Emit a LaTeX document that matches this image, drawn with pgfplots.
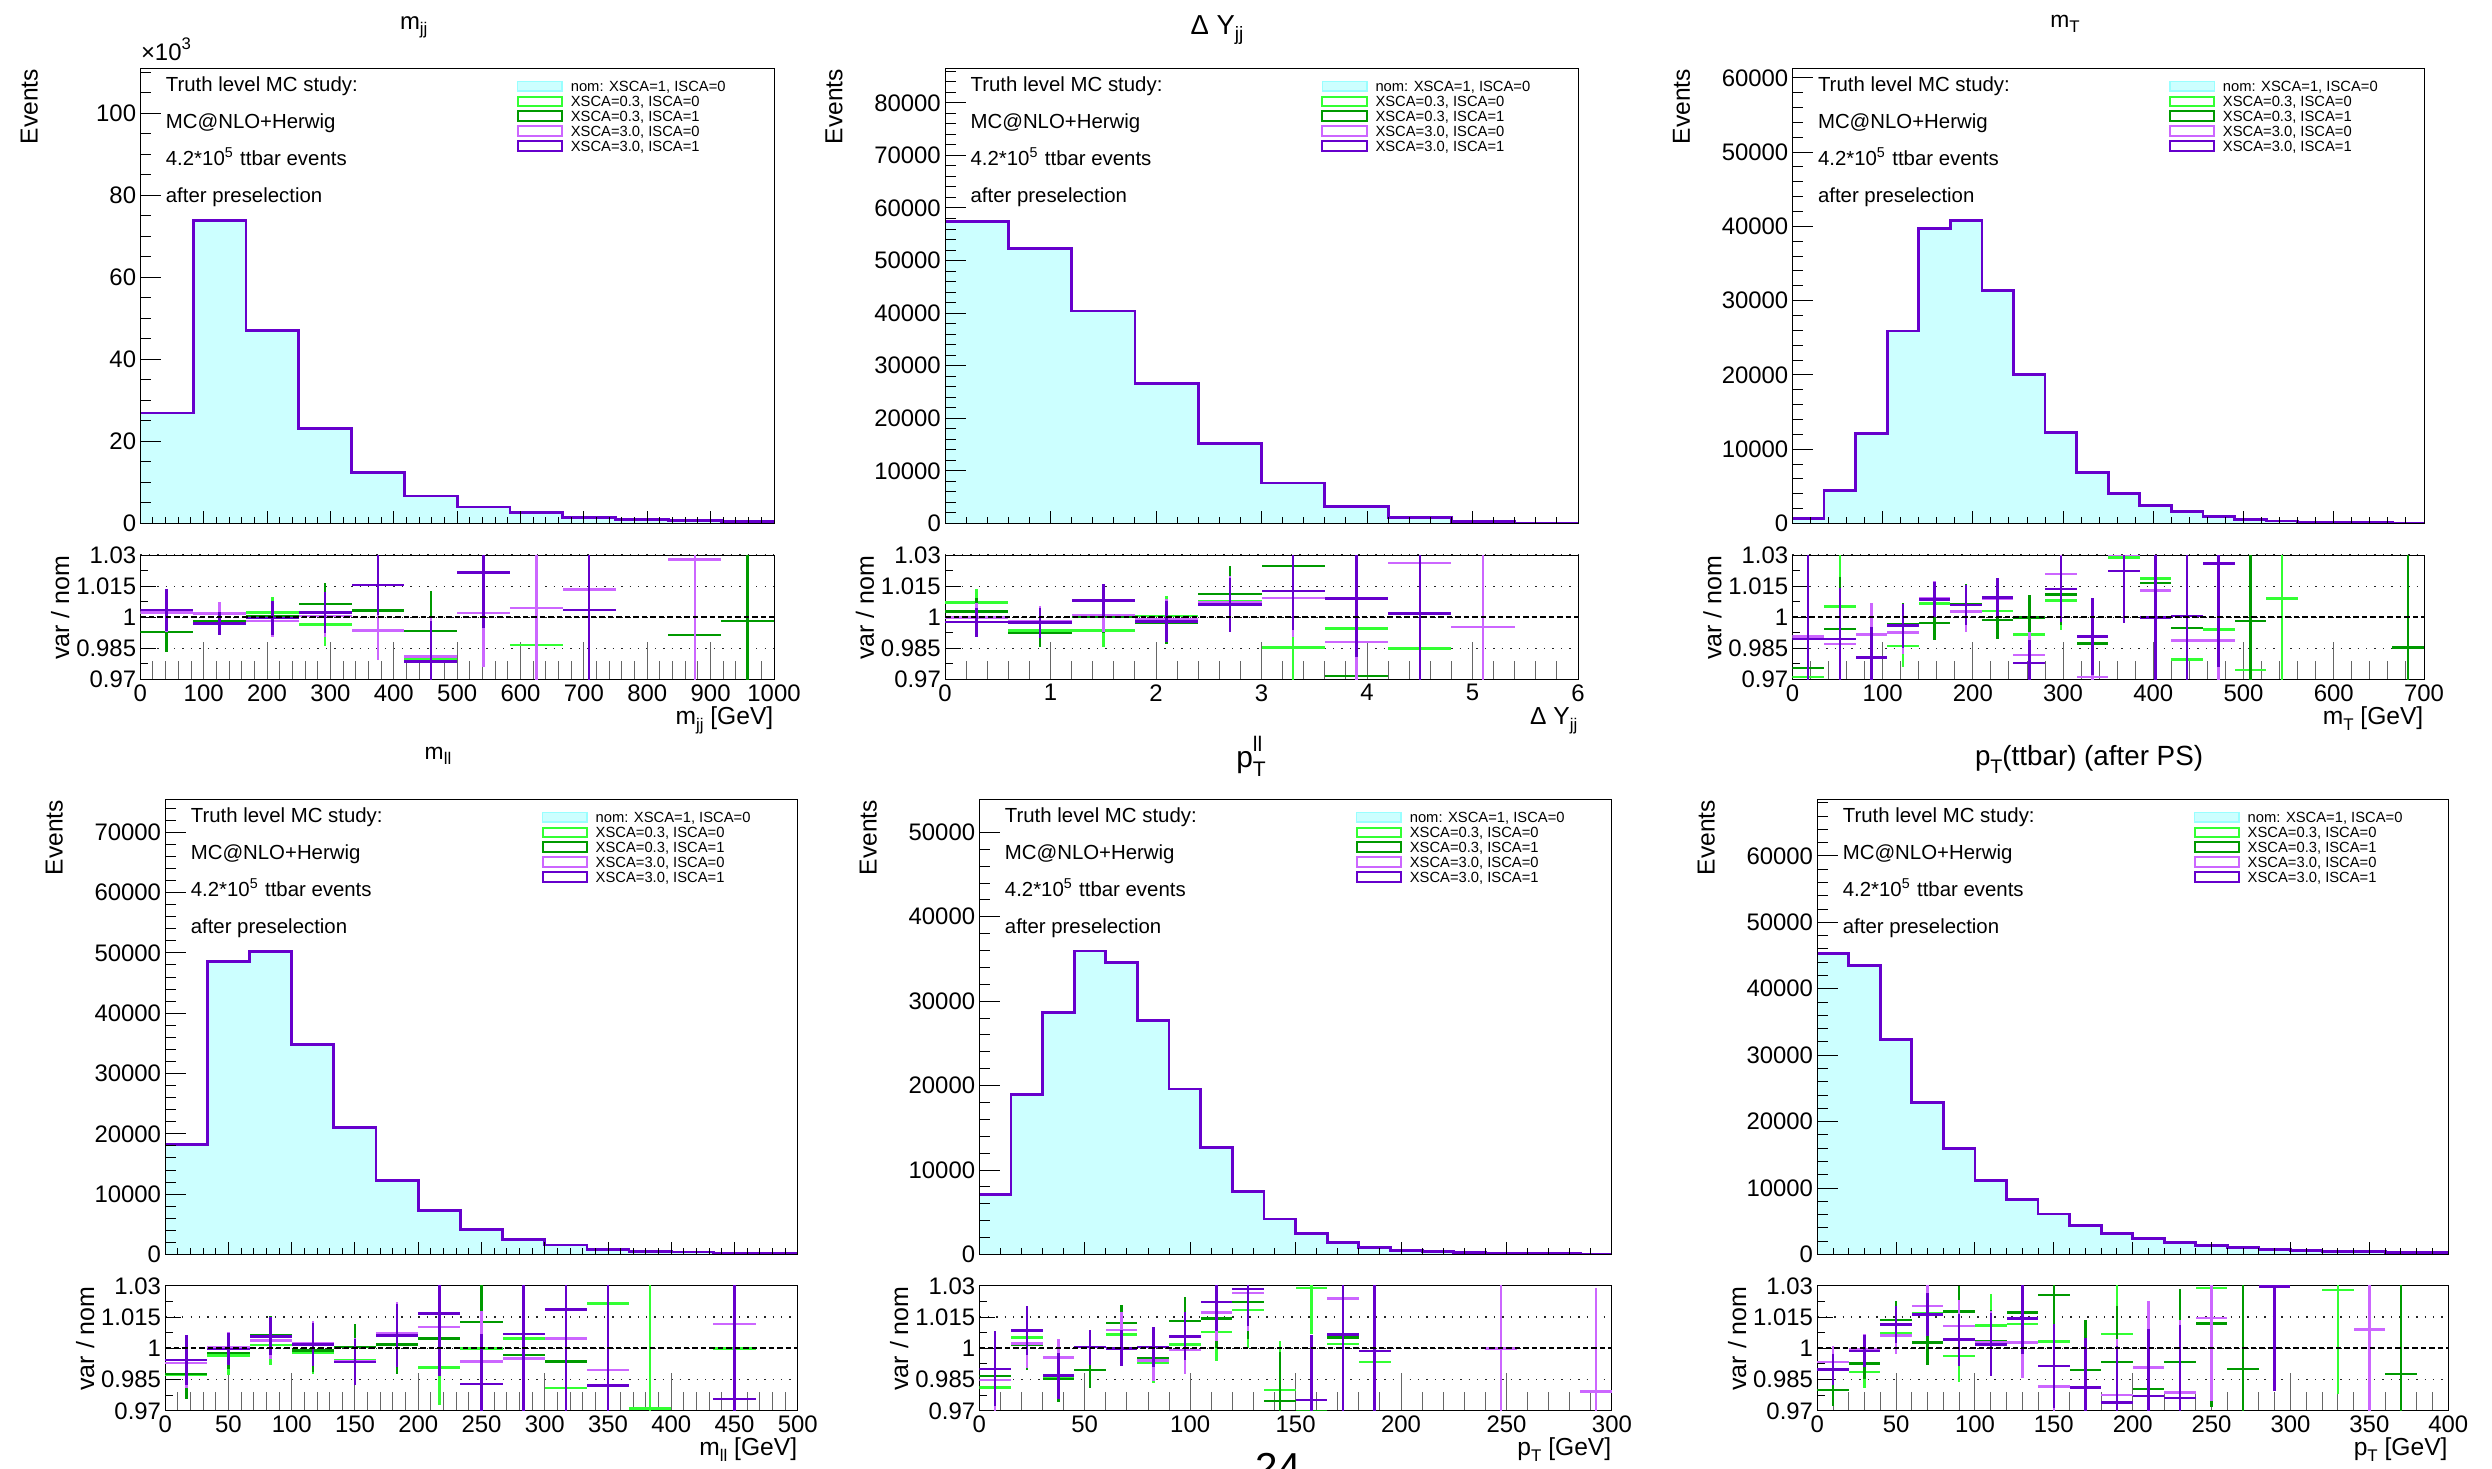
\documentclass[border=0pt]{standalone}
\usepackage{fontspec}
\setmainfont{Liberation Sans}
\usepackage{pgfplots}
\usepackage{pgfplotstable}
\pgfplotsset{compat=1.18}

\definecolor{nomfill}{HTML}{CCFFFF}
\definecolor{nomline}{HTML}{99FFFF}
\definecolor{lgreen}{HTML}{33FF33}
\definecolor{dgreen}{HTML}{009900}
\definecolor{lpurple}{HTML}{CC66FF}
\definecolor{dpurple}{HTML}{6600CC}

\newcommand\fs[1]{\fontsize{#1}{#1}\selectfont}

% columns: lo = bin low edge, x = bin centre, n = nominal,
% a/b/c/d = var/nom for the four variations, ae..de = their errors
\pgfplotstableread{
lo x n a ae b be c ce d de
0 41.667 26.9 1.002 0.0095 0.9929 0.0097 1.0023 0.0095 1.0034 0.010
83.333 125 73.9 0.998 0.0055 0.9982 0.0055 1.0018 0.0057 0.9969 0.0056
166.667 208.333 47.1 1.0024 0.0072 1.0005 0.0072 0.9982 0.0075 0.9997 0.0083
250 291.667 23.2 0.9965 0.0105 1.0063 0.010 1.0006 0.010 1.0023 0.010
333.333 375 12.4 1.0035 0.0145 1.0032 0.0145 0.9937 0.0145 1.0156 0.0145
416.667 458.333 6.67 0.980 0.019 0.9934 0.0194 0.9811 0.019 0.9787 0.0195
500 541.667 4.0 nan nan nan nan 1.0021 0.026 1.0215 0.0265
583.333 625 2.6 0.9866 0.02 nan nan 1.0045 0.038 nan nan
666.667 708.333 1.5 nan nan nan nan 1.0134 0.03 1.0035 0.045
750 791.667 1.0 nan nan nan nan nan nan nan nan
833.333 875 0.7 nan nan 0.9915 0.03 1.0279 0.06 nan nan
916.667 958.333 0.45 nan nan 0.9982 0.05 nan nan nan nan
1000 nan 0.45 nan nan nan nan nan nan nan nan
}\tA

\pgfplotstableread{
lo x n a ae b be c ce d de
0 0.3 57500 1.0071 0.0063 1.0029 0.0066 1.0 0.0068 0.9977 0.007
0.6 0.9 52300 0.9937 0.0068 0.9924 0.0068 0.9982 0.007 0.9974 0.0073
1.2 1.5 40400 0.9937 0.008 1.0002 0.008 1.001 0.008 1.0081 0.008
1.8 2.1 26600 1.0006 0.0098 0.9973 0.01 0.9989 0.01 0.998 0.01
2.4 2.7 15200 1.0077 0.013 1.0113 0.0134 1.007 0.013 1.0061 0.013
3.0 3.3 7700 0.9855 0.02 1.0248 0.02 1.0094 0.019 1.0127 0.0187
3.6 3.9 3200 0.9947 0.028 0.9716 0.03 0.9882 0.028 1.009 0.028
4.2 4.5 1100 0.985 0.045 nan nan 1.0261 0.045 1.0019 0.045
4.8 5.1 300 nan nan nan nan 0.9952 0.06 nan nan
5.4 5.7 100 nan nan nan nan nan nan nan nan
6 nan 100 nan nan nan nan nan nan nan nan
}\tB

\pgfplotstableread{
lo x n a ae b be c ce d de
0 17.5 630 0.9711 0.04 0.9756 0.04 0.9908 0.04 0.9895 0.045
35 52.5 4400 1.0052 0.03 0.9944 0.025 0.9871 0.024 0.9895 0.0244
70 87.5 12100 0.9915 0.015 0.992 0.015 0.9918 0.015 0.9806 0.0147
105 122.5 25900 0.9861 0.0103 0.9966 0.0105 0.9926 0.0105 0.996 0.0106
140 157.5 39700 1.0066 0.0085 0.9973 0.0084 1.009 0.0086 1.0085 0.0086
175 192.5 40800 1.003 0.0097 1.0063 0.0097 1.0027 0.0097 1.0058 0.0097
210 227.5 31400 1.003 0.009 0.9987 0.009 1.009 0.0093 1.0095 0.0093
245 262.5 20000 0.9916 0.011 0.9998 0.011 0.9819 0.011 0.9779 0.011
280 297.5 12200 1.0082 0.0145 1.011 0.0145 1.0208 0.016 1.0137 0.016
315 332.5 6900 nan nan 0.9874 0.019 0.9711 0.019 0.9908 0.0187
350 367.5 4060 1.0289 0.025 1.0223 0.025 1.03 0.025 1.0223 0.025
385 402.5 2400 1.0187 0.03 1.0166 0.03 1.0129 0.03 1.0 0.045
420 437.5 1600 0.9797 0.04 0.9948 0.04 0.9887 0.04 1.0006 0.045
455 472.5 900 0.9942 0.04 nan nan 0.9889 0.04 1.0258 0.05
490 507.5 500 0.9745 0.04 0.9982 0.05 nan nan nan nan
525 542.5 320 1.009 0.05 nan nan nan nan nan nan
560 577.5 200 nan nan nan nan nan nan nan nan
595 612.5 130 nan nan nan nan nan nan nan nan
630 647.5 80 nan nan nan nan nan nan nan nan
665 682.5 50 nan nan 0.9855 0.06 nan nan nan nan
700 nan 50 nan nan nan nan nan nan nan nan
}\tC

\pgfplotstableread{
lo x n a ae b be c ce d de
0 16.667 18200 0.9875 0.012 0.9877 0.012 0.9929 0.012 0.9944 0.0122
33.333 50 48600 0.9966 0.0093 0.9977 0.0075 1.0003 0.0075 0.9997 0.0075
66.667 83.333 50300 1.0015 0.0093 1.0063 0.0093 1.0037 0.009 1.0058 0.0092
100 116.667 34800 0.998 0.0105 0.999 0.0105 1.0024 0.0105 1.0018 0.0105
133.333 150 21000 0.9942 0.011 1.0006 0.011 0.994 0.011 0.9934 0.011
166.667 183.333 12300 1.002 0.014 1.0018 0.014 1.0074 0.015 1.0061 0.015
200 216.667 7260 0.9908 0.018 1.0048 0.018 1.0102 0.018 1.0168 0.03
233.333 250 4140 1.0 0.025 1.0126 0.025 0.9937 0.024 0.9829 0.024
266.667 283.333 2500 1.0047 0.03 0.9968 0.03 0.9952 0.03 1.0068 0.05
300 316.667 1560 0.981 0.035 0.9937 0.035 1.0047 0.035 1.0187 0.05
333.333 350 860 1.0216 0.04 nan nan 0.9895 0.04 0.9821 0.05
366.667 383.333 550 0.9711 0.06 nan nan nan nan nan nan
400 416.667 390 nan nan nan nan nan nan nan nan
433.333 450 230 1.0 0.05 nan nan 1.0118 0.05 0.9758 0.06
466.667 483.333 160 nan nan nan nan nan nan nan nan
500 nan 160 nan nan nan nan nan nan nan nan
}\tD

\pgfplotstableread{
lo x n a ae b be c ce d de
0 7.5 7080 0.9811 0.018 0.9868 0.018 0.9848 0.018 0.9902 0.018
15 22.5 18950 1.0052 0.012 1.0015 0.012 1.0024 0.012 1.0085 0.0118
30 37.5 28700 0.9855 0.01 0.9852 0.011 0.9956 0.009 0.9869 0.011
45 52.5 35950 0.9895 0.0085 0.9897 0.0085 1.0006 0.0084 1.0006 0.0084
60 67.5 34560 1.0066 0.0087 1.0121 0.0087 1.0089 0.0087 1.0 0.0087
75 82.5 27700 0.9929 0.0097 0.9952 0.0097 0.9942 0.0097 1.0006 0.0097
90 97.5 19600 1.0018 0.0116 1.0131 0.0116 0.9992 0.0116 1.0058 0.0116
105 112.5 12700 1.0079 0.014 1.0144 0.014 1.0173 0.014 1.0223 0.014
120 127.5 7500 1.0184 0.018 1.0223 0.018 1.0265 0.018 1.0286 0.018
135 142.5 4200 0.98 0.0234 0.9748 0.0234 nan nan nan nan
150 157.5 2450 1.0289 0.022 0.97 0.03 nan nan 0.9752 0.031
165 172.5 1400 1.0021 0.03 1.0053 0.03 1.024 0.03 1.0066 0.05
180 187.5 840 0.9934 0.03 nan nan nan nan 0.9987 0.05
195 202.5 500 nan nan nan nan nan nan nan nan
210 217.5 330 nan nan nan nan nan nan nan nan
225 232.5 220 nan nan nan nan nan nan nan nan
240 247.5 170 nan nan nan nan 1.0 0.05 nan nan
255 262.5 110 nan nan nan nan nan nan nan nan
270 277.5 80 nan nan nan nan nan nan nan nan
285 292.5 60 nan nan nan nan 0.9792 0.05 nan nan
300 nan 60 nan nan nan nan nan nan nan nan
}\tE

\pgfplotstableread{
lo x n a ae b be c ce d de
0 10 45300 nan nan 0.98 0.0075 0.9934 0.0075 0.9898 0.0075
20 30 43550 0.9887 0.0075 0.9927 0.0075 0.9995 0.0075 0.9987 0.0075
40 50 32400 1.0074 0.009 1.0137 0.009 1.0061 0.009 1.0115 0.009
60 70 22900 1.017 0.0105 1.0027 0.0105 1.0203 0.0105 1.0163 0.0105
80 90 15900 0.9963 0.0125 1.0176 0.0125 1.0108 0.0125 1.0042 0.0125
100 110 11100 1.011 0.015 1.0034 0.015 1.0029 0.015 1.0018 0.015
120 130 8300 1.0118 0.017 1.0173 0.017 1.0027 0.017 1.0144 0.017
140 150 6100 1.0034 0.02 1.0256 0.02 0.9816 0.02 0.9916 0.02
160 170 4400 nan nan 0.9897 0.0237 nan nan 0.9813 0.0237
180 190 3200 1.0069 0.027 0.9935 0.027 0.9776 0.027 0.9739 0.027
200 210 2400 nan nan 0.9806 0.032 0.9908 0.032 0.9771 0.032
220 230 1840 nan nan 0.9934 0.035 0.9787 0.035 0.9761 0.035
240 250 1350 1.0289 0.04 1.0119 0.04 1.0145 0.04 nan nan
260 270 1000 nan nan 0.9902 0.045 nan nan nan nan
280 290 780 nan nan nan nan nan nan 1.0297 0.05
300 310 640 nan nan nan nan nan nan nan nan
320 330 500 1.0281 0.05 nan nan nan nan nan nan
340 350 420 nan nan nan nan 1.009 0.05 nan nan
360 370 350 nan nan 0.9876 0.05 nan nan nan nan
380 390 280 nan nan nan nan nan nan nan nan
400 nan 280 nan nan nan nan nan nan nan nan
}\tF

\pgfplotsset{
  rootbase/.style={
    scale only axis, anchor=north west,
    axis line style={line width=0.1mm},
    tick align=inside, tick pos=left,
    every tick/.style={black, line width=0.1mm},
    tick label style={font=\fs{6.8}},
    /pgf/number format/assume math mode=true,
    /pgf/number format/1000 sep={},
    yticklabel style={inner xsep=1pt},
    xticklabel style={inner ysep=1.2pt},
    minor x tick num=4,
  },
  mainax/.style={rootbase, height=45.5mm, ymin=0, axis on top,
    xticklabels={}, scaled y ticks=false,
    yticklabel style={/pgf/number format/fixed},
    minor y tick num=4,
    xtick style={/pgfplots/major tick length=1.2mm, /pgfplots/minor tick length=0.6mm},
    ytick style={/pgfplots/major tick length=2.1mm, /pgfplots/minor tick length=1.05mm},
  },
  ratioax/.style={rootbase, ymin=0.97, ymax=1.03,
    ytick={0.97,0.985,1,1.015,1.03}, yticklabels={0.97,0.985,1,1.015,1.03},
    minor y tick num=1,
    ymajorgrids, grid style={dotted, line width=0.12mm, black!85},
    xtick style={black!60, /pgfplots/major tick length=3.8mm, /pgfplots/minor tick length=1.9mm},
    ytick style={/pgfplots/major tick length=1.6mm, /pgfplots/minor tick length=0.8mm},
  },
  varbar/.style 2 args={draw=none, no markers,
    error bars/.cd, x dir=both, x fixed=#1, y dir=both, y explicit,
    error mark=none, error bar style={draw=#2, line width=0.25mm}},
}

\newcommand\histo[1]{%
  \addplot[const plot, fill=nomfill, draw=none] table[x=lo, y=n] {#1} \closedcycle;
  \addplot[const plot, dpurple, line width=0.28mm] table[x=lo, y=n] {#1};
}

% #1 table, #2 half bin width, #3 xmax
\newcommand\variants[3]{%
  \addplot[varbar={#2}{lgreen}] table[x=x, y=a, y error=ae] {#1};
  \addplot[varbar={#2}{dgreen}] table[x=x, y=b, y error=be] {#1};
  \addplot[varbar={#2}{lpurple}] table[x=x, y=c, y error=ce] {#1};
  \addplot[varbar={#2}{dpurple}] table[x=x, y=d, y error=de] {#1};
  \addplot[black, line width=0.2mm, dash pattern=on 0.55mm off 0.3mm] coordinates {(0,1) (#3,1)};
}

\newcommand\rootlegend[1]{%
  \begin{scope}[shift={(#1.north west)}, every node/.style={anchor=base west, inner sep=0pt, font=\fs{4.2}}]
    \filldraw[fill=nomfill, draw=nomline, line width=0.15mm] (37.74mm,-1.33mm) rectangle (42.19mm,-2.27mm);
    \node at (42.98mm,-2.33mm) {nom: XSCA=1, ISCA=0};
    \draw[lgreen, line width=0.2mm] (37.74mm,-2.815mm) rectangle (42.19mm,-3.755mm);
    \node at (42.98mm,-3.815mm) {XSCA=0.3, ISCA=0};
    \draw[dgreen, line width=0.2mm] (37.74mm,-4.30mm) rectangle (42.19mm,-5.24mm);
    \node at (42.98mm,-5.30mm) {XSCA=0.3, ISCA=1};
    \draw[lpurple, line width=0.2mm] (37.74mm,-5.785mm) rectangle (42.19mm,-6.725mm);
    \node at (42.98mm,-6.785mm) {XSCA=3.0, ISCA=0};
    \draw[dpurple, line width=0.2mm] (37.74mm,-7.27mm) rectangle (42.19mm,-8.21mm);
    \node at (42.98mm,-8.27mm) {XSCA=3.0, ISCA=1};
  \end{scope}}

\newcommand\infotext[1]{%
  \begin{scope}[shift={(#1.north west)}, every node/.style={anchor=base west, inner sep=0pt, font=\fs{5.8}}]
    \node at (2.49mm,-2.35mm) {Truth level MC study:};
    \node at (2.49mm,-6.05mm) {MC@NLO+Herwig};
    \node at (2.49mm,-9.75mm) {4.2*10\textsuperscript{5} ttbar events};
    \node at (2.49mm,-13.45mm) {after preselection};
  \end{scope}}

% #1 main axis, #2 ratio axis, #3 x title
\newcommand\labels[3]{%
  \node[rotate=90, anchor=east, inner sep=0pt, font=\fs{7}] at ([xshift=-11.1mm]#1.north west) {Events};
  \node[rotate=90, anchor=east, inner sep=0pt, font=\fs{7.1}] at ([xshift=-8.0mm]#2.north west) {var / nom};
  \node[anchor=base east, inner sep=0pt, font=\fs{7}] at ([yshift=-4.5mm]#2.south east) {#3};
  \rootlegend{#1}
  \infotext{#1}
}

\newcommand\sub[1]{\raisebox{-0.45ex}{\fs{4.8}#1}}

\begin{document}
\begin{tikzpicture}
\useasboundingbox (0,0) rectangle (249.2mm,-146.8mm);

% ---------- m_jj ----------
\begin{axis}[mainax, name=m1, at={(14.03mm,-6.84mm)}, width=63.37mm,
  xmin=0, xmax=1000, ymax=110.9, xtick distance=100, ytick distance=20, minor y tick num=3]
\histo{\tA}
\end{axis}
\begin{axis}[ratioax, name=r1, at={(14.03mm,-55.5mm)}, width=63.37mm, height=12.45mm,
  xmin=0, xmax=1000, xtick distance=100]
\variants{\tA}{41.667}{1000}
\end{axis}
\labels{m1}{r1}{m\sub{jj} [GeV]}
\node[anchor=base west, inner sep=0pt, font=\fs{6.8}] at ([yshift=0.8mm]m1.north west) {×10\textsuperscript{3}};
\node[anchor=base, font=\fs{6.8}] at (41.37mm,-2.9mm) {m\sub{jj}};

% ---------- Delta Y_jj ----------
\begin{axis}[mainax, name=m2, at={(94.5mm,-6.84mm)}, width=63.3mm,
  xmin=0, xmax=6, ymax=86550, xtick distance=1, ytick distance=10000]
\histo{\tB}
\end{axis}
\begin{axis}[ratioax, name=r2, at={(94.5mm,-55.5mm)}, width=63.3mm, height=12.45mm,
  xmin=0, xmax=6, xtick distance=1]
\variants{\tB}{0.3}{6}
\end{axis}
\labels{m2}{r2}{Δ Y\sub{jj}}
\node[anchor=base, font=\fs{7.8}] at (121.7mm,-3.44mm) {Δ Y\raisebox{-0.45ex}{\fs{5.5}jj}};

% ---------- m_T ----------
\begin{axis}[mainax, name=m3, at={(179.24mm,-6.84mm)}, width=63.16mm,
  xmin=0, xmax=700, ymax=61270, xtick distance=100, ytick distance=10000]
\histo{\tC}
\end{axis}
\begin{axis}[ratioax, name=r3, at={(179.24mm,-55.5mm)}, width=63.16mm, height=12.45mm,
  xmin=0, xmax=700, xtick distance=100]
\variants{\tC}{17.5}{700}
\end{axis}
\labels{m3}{r3}{m\sub{T} [GeV]}
\node[anchor=base, font=\fs{6.5}] at (206.5mm,-2.73mm) {m\sub{T}};

% ---------- m_ll ----------
\begin{axis}[mainax, name=m4, at={(16.52mm,-79.94mm)}, width=63.26mm,
  xmin=0, xmax=500, ymax=75460, xtick distance=50, ytick distance=10000]
\histo{\tD}
\end{axis}
\begin{axis}[ratioax, name=r4, at={(16.52mm,-128.58mm)}, width=63.26mm, height=12.5mm,
  xmin=0, xmax=500, xtick distance=50]
\variants{\tD}{16.667}{500}
\end{axis}
\labels{m4}{r4}{m\sub{ll} [GeV]}
\node[anchor=base, font=\fs{6.5}] at (43.8mm,-75.9mm) {m\sub{ll}};

% ---------- pT^ll ----------
\begin{axis}[mainax, name=m5, at={(97.93mm,-79.94mm)}, width=63.26mm,
  xmin=0, xmax=300, ymax=53900, xtick distance=50, ytick distance=10000]
\histo{\tE}
\end{axis}
\begin{axis}[ratioax, name=r5, at={(97.93mm,-128.58mm)}, width=63.26mm, height=12.5mm,
  xmin=0, xmax=300, xtick distance=50]
\variants{\tE}{7.5}{300}
\end{axis}
\labels{m5}{r5}{p\sub{T} [GeV]}
\node[anchor=base, font=\fs{8.5}] at (125.1mm,-76.7mm)
  {p\rlap{\raisebox{1.0ex}{\fs{6}ll}}\raisebox{-0.6ex}{\fs{6}T}};

% ---------- pT(ttbar) ----------
\begin{axis}[mainax, name=m6, at={(181.72mm,-79.94mm)}, width=63.1mm,
  xmin=0, xmax=400, ymax=68500, xtick distance=50, ytick distance=10000]
\histo{\tF}
\end{axis}
\begin{axis}[ratioax, name=r6, at={(181.72mm,-128.58mm)}, width=63.1mm, height=12.5mm,
  xmin=0, xmax=400, xtick distance=50]
\variants{\tF}{10}{400}
\end{axis}
\labels{m6}{r6}{p\sub{T} [GeV]}
\node[anchor=base, font=\fs{7.9}] at (208.9mm,-76.5mm) {p\raisebox{-0.6ex}{\fs{5.6}T}(ttbar) (after PS)};

% page number, cut by the page edge
\node[anchor=base, font=\fs{11.5}] at (127.8mm,-148.1mm) {24};
\end{tikzpicture}
\end{document}
